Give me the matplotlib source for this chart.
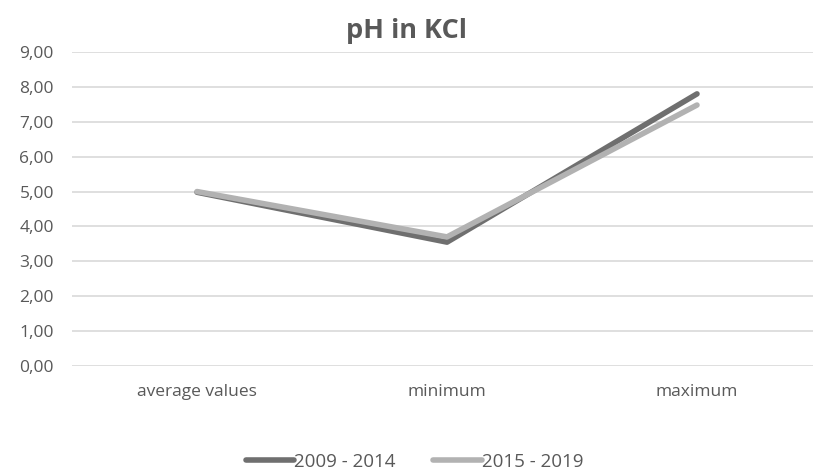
import matplotlib
matplotlib.use('Agg')
import matplotlib.pyplot as plt
from matplotlib.ticker import FuncFormatter

categories = ['average values', 'minimum', 'maximum']
ph_2009_2014 = [4.98, 3.55, 7.80]
ph_2015_2019 = [5.00, 3.70, 7.48]

plt.rcParams['font.family'] = ['Open Sans', 'DejaVu Sans']
txt = '#595959'

fig = plt.figure(figsize=(8.13, 4.73), dpi=100)
# plot area runs a bit past the right edge, like in the original
ax = fig.add_axes([72 / 813, 1 - 366 / 473, 750 / 813, (366 - 52) / 473])

x = range(len(categories))
ax.plot(x, ph_2009_2014, color='#6f6f6f', lw=4, solid_capstyle='round', label='2009 - 2014', zorder=3)
ax.plot(x, ph_2015_2019, color='#b2b2b2', lw=4, solid_capstyle='round', label='2015 - 2019', zorder=3)

ax.set_xlim(-0.5, 2.5)
ax.set_ylim(0, 9)
ax.set_yticks(range(0, 10))
ax.yaxis.set_major_formatter(FuncFormatter(lambda v, p: f'{v:.2f}'.replace('.', ',')))
ax.set_xticks(list(x))
ax.set_xticklabels(categories)
ax.grid(axis='y', color='#d9d9d9', lw=1.2)
ax.set_axisbelow(True)
for s in ax.spines.values():
    s.set_visible(False)
ax.tick_params(length=0, labelsize=12.5, colors=txt)
ax.tick_params(axis='y', pad=13)
ax.tick_params(axis='x', pad=13)

fig.text(0.5, 1 - 31 / 473, 'pH in KCl', ha='center', va='center', fontsize=19.5, fontweight='bold', color=txt)

leg = fig.legend(loc='center', bbox_to_anchor=(0.5 + 8 / 813, 1 - 462 / 473), ncol=2, frameon=False,
                 fontsize=13.5, handlelength=2.6, handletextpad=0.0, columnspacing=2.0)
for t in leg.get_texts():
    t.set_color(txt)

fig.savefig('out.png', dpi=100, facecolor='white')
